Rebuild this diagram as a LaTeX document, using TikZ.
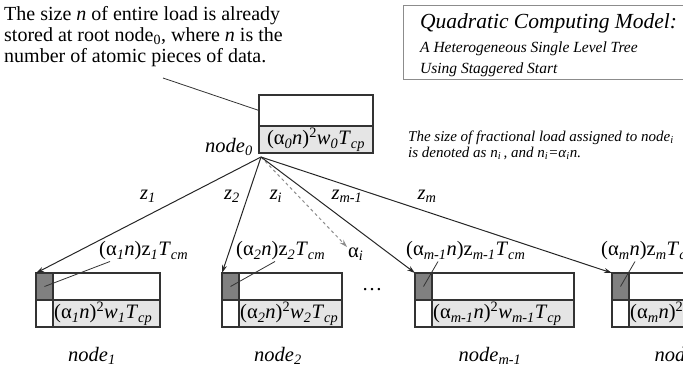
\documentclass[tikz,border=0pt]{standalone}
\usepackage{fontspec}
\setmainfont{Liberation Serif}
\usetikzlibrary{arrows.meta,positioning,calc}

\newcommand{\sub}[1]{\textsubscript{\itshape #1}}
\newcommand{\cmload}[1]{(α\sub{#1}\textit{n})z\sub{#1}\textit{T}\sub{cm}}
\newcommand{\cpload}[1]{(α\sub{#1}\textit{n})\textsuperscript{2}\textit{w}\sub{#1}\textit{T}\sub{cp}}

\tikzset{
  cmcell/.style={draw=black!80, line width=1.2pt, fill=black!50, minimum width=17pt,
    minimum height=27pt, inner sep=0pt, outer sep=0pt},
  blankcell/.style={cmcell, fill=white},
  toprow/.style={draw=black!80, line width=1.2pt, fill=white, minimum height=27pt,
    inner sep=0pt, outer sep=0pt},
  cprow/.style={toprow, fill=black!10},
  leader/.style={line width=0.8pt, black!80},
  link/.style={-{Stealth[length=8pt,width=5pt]}, line width=1pt, black!85},
}

\begin{document}
\begin{tikzpicture}[x=1pt, y=-1pt, font=\fontsize{20.5}{22}\selectfont]
\useasboundingbox (0,0) rectangle (683,375);

% note about the whole load
\node[anchor=north west, align=left, inner sep=0pt, font=\fontsize{20}{21}\selectfont]
  (note) at (4,6)
  {The size \textit{n} of entire load is already\\
   stored at root node\textsubscript{0}, where \textit{n} is the\\
   number of atomic pieces of data.};
\coordinate (notept) at (163,78);

% title box
\node[draw=black!45, line width=1pt, minimum width=280pt, minimum height=74pt,
  anchor=north west] (title) at (403,5) {};
\node[anchor=base west, inner sep=0pt] (title-a) at (420,28)
  {\fontsize{21.5}{22}\selectfont\itshape Quadratic Computing Model:};
\node[anchor=base west, inner sep=0pt] (title-b) at (420,52)
  {\fontsize{15.5}{16}\selectfont\itshape A Heterogeneous Single Level Tree};
\node[anchor=base west, inner sep=0pt] (title-c) at (420,73)
  {\fontsize{15.5}{16}\selectfont\itshape Using Staggered Start};

% fractional load remark
\node[anchor=base west, inner sep=0pt] (frac-a) at (408,141)
  {\fontsize{15}{15}\selectfont\itshape The size of fractional load assigned to node\sub{i}};
\node[anchor=base west, inner sep=0pt] (frac-b) at (408,157)
  {\fontsize{15}{15}\selectfont\itshape is denoted as n\sub{i}\,, and n\sub{i}=α\sub{i}n.};

% root
\node[toprow, minimum width=114pt, minimum height=31pt] (root-top) at (316,110.5) {};
\node[cprow, minimum width=114pt, below=0pt of root-top] (root-cp) {\cpload{0}};
\node (root-name) at (229,147) {\textit{node}\sub{0}};
\draw[leader] (notept) -- (root-top.west);
\coordinate (src) at ($(root-cp.south west)+(2,4)$);

% children
\foreach \nm/\k/\bx/\w/\lx/\sx/\nx in {n1/1/36/124/98/110/92, n2/2/222/120/235/275/278,
    nm1/m-1/415/159/405/438/490, nm/m/612/120/600/635/680} {
  \node[cmcell, anchor=north west] (\nm-cm) at (\bx,273) {};
  \node[blankcell, below=0pt of \nm-cm] (\nm-bl) {};
  \node[toprow, right=0pt of \nm-cm, minimum width=\w-17] (\nm-top) {};
  \node[cprow, right=0pt of \nm-bl, minimum width=\w-17] (\nm-cp) {};
  \node[anchor=west, inner sep=1pt] (\nm-cpt) at (\nm-cp.west) {\cpload{\k}};
  \node[anchor=west, inner sep=1pt] (\nm-lab) at (\lx,251) {\cmload{\k}};
  \draw[leader] ($(\nm-lab.south west)+(\sx-\lx,0)$) -- (\nm-cm.center);
  \node (\nm-name) at (\nx,356) {\textit{node}\sub{\k}};
}

\node (dots) at (372,290) {…};
\node[anchor=north west, inner sep=1pt] (ai) at (347,247) {α\sub{i}};

% links from the root
\draw[link] (src) -- (n1-cm.north west);
\draw[link] (src) -- (n2-cm.north west);
\draw[link, dashed, black!45] (src) -- (ai.north west);
\draw[link] (src) -- (nm1-cm.north west);
\draw[link] (src) -- (nm-cm.north west);
\node (z1) at (148,196) {\textit{z}\sub{1}};
\node (z2) at (232,196) {\textit{z}\sub{2}};
\node (zi) at (276,196) {\textit{z}\sub{i}};
\node (zm1) at (347,196) {\textit{z}\sub{m-1}};
\node (zm) at (427,196) {\textit{z}\sub{m}};
\end{tikzpicture}
\end{document}
